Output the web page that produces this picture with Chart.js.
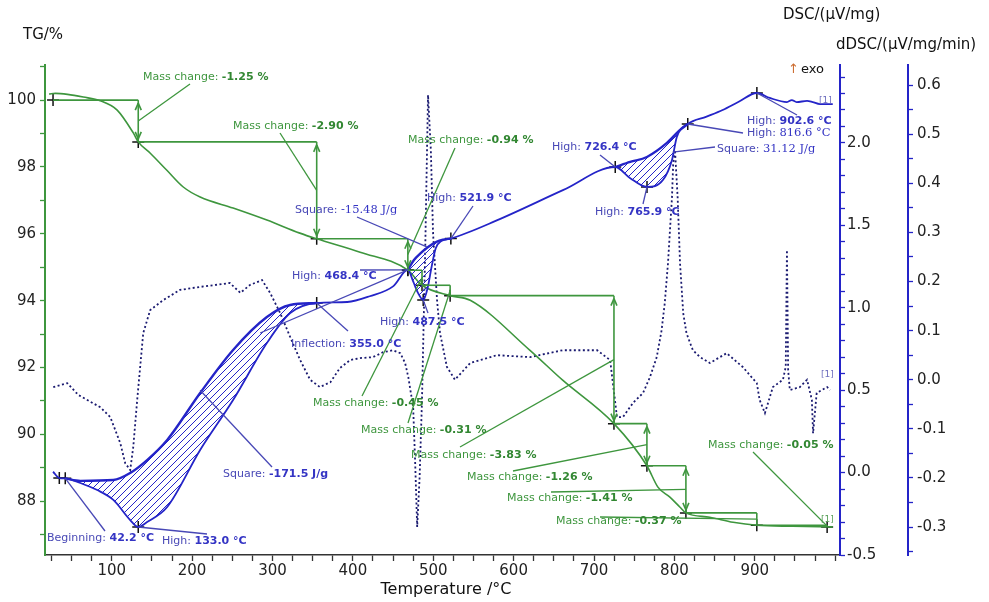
<!DOCTYPE html>
<html>
<head>
<meta charset="utf-8">
<script src="https://cdn.jsdelivr.net/npm/chart.js"></script>
<style>
  html, body { margin: 0; padding: 0; background: #fff; }
  #wrap { width: 989px; height: 602px; }
</style>
</head>
<body>
<div id="wrap"><canvas id="thermoChart" width="989" height="602"></canvas></div>
<script>
    // TG curve (temperature °C, mass %)
    const tgT = [22, 30, 45, 64.6, 85.7, 106.8, 127, 133, 148, 168.6, 189, 210, 251, 293, 334, 355, 409, 468.4, 486, 521, 546, 620, 661, 724.8, 765.8, 779.5, 794.4, 807, 814.3, 844, 873, 902.5, 947, 997];
    const tgV = [100.18, 100.2, 100.17, 100.09, 99.98, 99.7, 99.01, 98.75, 98.41, 97.9, 97.4, 97.1, 96.77, 96.41, 96.02, 95.85, 95.45, 94.91, 94.46, 94.15, 94.01, 92.52, 91.62, 90.32, 89.06, 88.42, 88.12, 87.82, 87.65, 87.52, 87.37, 87.28, 87.25, 87.23];

    // mass change steps
    const stepT = [27, 133, 355, 468.4, 486, 521, 724.8, 765.8, 814.3, 902.5, 990];
    const stepV = [100, 98.75, 95.85, 94.91, 94.46, 94.15, 90.32, 89.06, 87.65, 87.28, 87.23];
    const massLabels = ['-1.25 %', '-2.90 %', '-0.94 %', '-0.45 %', '-0.31 %', '-3.83 %', '-1.26 %', '-1.41 %', '-0.37 %', '-0.05 %'];

    // DSC curve (µV/mg)
    const dscT = [27, 35, 42.2, 61, 82, 102, 123, 133, 144, 169, 210, 251, 293, 322, 355, 393, 421, 450, 468.4, 475, 481, 487.5, 493, 498, 503, 510, 521.9, 579, 662, 726.4, 744.6, 765.9, 785.7, 797, 803, 816.6, 840, 860, 880, 902.6, 918.6, 940, 946, 952, 965, 972, 981, 997];
    const dscV = [0.005, -0.033, -0.035, -0.063, -0.106, -0.166, -0.288, -0.33, -0.3, -0.209, 0.137, 0.44, 0.786, 0.968, 1.029, 1.035, 1.07, 1.13, 1.23, 1.16, 1.09, 1.047, 1.12, 1.25, 1.36, 1.405, 1.42, 1.53, 1.715, 1.854, 1.788, 1.733, 1.775, 1.897, 2.036, 2.115, 2.16, 2.2, 2.25, 2.303, 2.273, 2.248, 2.26, 2.248, 2.255, 2.248, 2.236, 2.236];

    // integration baselines of the three peaks
    const base1T = [42.2, 61, 102, 123, 144, 169, 210, 251, 293, 322, 355];
    const base1V = [-0.035, -0.05, -0.045, -0.002, 0.076, 0.198, 0.483, 0.744, 0.944, 1.017, 1.029];
    const base2T = [468.4, 476, 484, 494, 504, 512, 521.9];
    const base2V = [1.23, 1.29, 1.33, 1.37, 1.40, 1.413, 1.42];
    const base3T = [726.4, 745, 765.8, 790.7, 807, 816.6];
    const base3V = [1.854, 1.885, 1.915, 2.0, 2.079, 2.115];

    // dDSC curve (µV/mg/min)
    const ddscT = [27.3, 44.7, 58.4, 85.7, 98.2, 110.6, 116.8, 123, 126.8, 131.7, 139.2, 147.9, 164, 185, 210, 229, 247, 260, 272, 287, 297, 309.5, 322, 334.4, 346.8, 359, 372, 384, 396.5, 409, 425, 437.5, 450, 459, 465, 469, 475, 477.4, 480, 483, 486, 490, 493.5, 497, 499.7, 504.7, 508.4, 517, 527, 546, 579, 620, 661, 704, 720, 726, 728.5, 736, 748.6, 761, 769.5, 778, 784, 788, 792, 794.5, 797, 798.5, 800.7, 804, 807, 811, 815, 819.5, 823, 832, 844, 865, 885, 902.5, 906, 912.6, 922.5, 935, 938.5, 940, 941.5, 943.6, 956, 965, 971, 972.5, 977, 990, 993.5];
    const ddscV = [-0.015, -0.007, -0.031, -0.056, -0.076, -0.129, -0.17, -0.184, -0.137, -0.041, 0.095, 0.142, 0.162, 0.183, 0.189, 0.193, 0.197, 0.177, 0.193, 0.203, 0.177, 0.136, 0.087, 0.04, 0.0, -0.015, -0.005, 0.024, 0.04, 0.044, 0.046, 0.056, 0.06, 0.054, 0.034, 0.005, -0.056, -0.164, -0.3, -0.2, -0.041, 0.264, 0.58, 0.468, 0.3, 0.162, 0.095, 0.026, 0.0, 0.034, 0.05, 0.046, 0.06, 0.06, 0.04, -0.041, -0.076, -0.076, -0.047, -0.027, 0.005, 0.046, 0.1, 0.156, 0.237, 0.305, 0.372, 0.441, 0.468, 0.372, 0.237, 0.135, 0.095, 0.075, 0.06, 0.046, 0.034, 0.054, 0.026, -0.007, -0.041, -0.068, -0.015, 0.0, 0.026, 0.264, 0.02, -0.021, -0.015, 0.0, -0.041, -0.109, -0.027, -0.015, -0.021];

    // evaluated DSC points
    const dscMarkT = [34.8, 42.2, 133.0, 355.0, 468.4, 487.5, 521.9, 726.4, 765.9, 816.6, 902.6];
    const dscMarkV = [-0.033, -0.035, -0.33, 1.029, 1.23, 1.047, 1.42, 1.854, 1.733, 2.115, 2.303];

    const FONT = 'DejaVu Sans';
    const GREEN = 'rgb(62,150,62)';
    const BLUE = 'rgb(36,36,200)';
    const NOTE_BLUE = 'rgb(72,72,182)';
    const NAVY = 'rgb(26,26,112)';

    const pts = (xs, ys) => xs.map((x, i) => ({ x, y: ys[i] }));
    const range = (a, b, step) => {
        const out = [];
        for (let k = Math.round(a / step); k <= Math.round(b / step) + 1e-9; k++) out.push(Math.round(k * step * 1000) / 1000);
        return out;
    };

    function hatchPattern() {
        const c = document.createElement('canvas');
        c.width = 7; c.height = 7;
        const g = c.getContext('2d');
        g.strokeStyle = BLUE;
        g.lineWidth = 1;
        g.beginPath();
        g.moveTo(0, 7); g.lineTo(7, 0);
        g.moveTo(-1, 1); g.lineTo(1, -1);
        g.moveTo(6, 8); g.lineTo(8, 6);
        g.stroke();
        return g.createPattern(c, 'repeat');
    }
    const hatch = hatchPattern();

    // text notes (label position in px, leader start in px)
    const greenNotes = [
        { x: 143, y: 77, from: [190, 84] },
        { x: 233, y: 126, from: [280, 133] },
        { x: 408, y: 140, from: [455, 148] },
        { x: 313, y: 403, from: [362, 396] },
        { x: 361, y: 430, from: [408, 423] },
        { x: 411, y: 455, from: [460, 447] },
        { x: 467, y: 477, from: [513, 471] },
        { x: 507, y: 498, from: [551, 492] },
        { x: 556, y: 521, from: [600, 517] },
        { x: 708, y: 445, from: [753, 452] }
    ];
    const blueNotes = [
        { x: 47, y: 538, label: 'Beginning: ', value: '42.2 °C', from: [105, 531], mark: 1 },
        { x: 162, y: 541, label: 'High: ', value: '133.0 °C', from: [207, 534], mark: 2 },
        { x: 223, y: 474, label: 'Square: ', value: '-171.5 J/g', from: [272, 467], to: [210, 0.5] },
        { x: 291, y: 344, label: 'Inflection: ', value: '355.0 °C', from: [348, 331], mark: 3 },
        { x: 292, y: 276, label: 'High: ', value: '468.4 °C', from: [360, 270], mark: 4 },
        { x: 295, y: 210, label: 'Square: ', value: '-15.48 J/g', serif: true, from: [357, 217], to: [492, 1.37] },
        { x: 427, y: 198, label: 'High: ', value: '521.9 °C', from: [473, 206], mark: 6 },
        { x: 380, y: 322, label: 'High: ', value: '487.5 °C', from: [428, 313], mark: 5 },
        { x: 552, y: 147, label: 'High: ', value: '726.4 °C', from: [600, 155], mark: 7 },
        { x: 595, y: 212, label: 'High: ', value: '765.9 °C', from: [643, 204], mark: 8 },
        { x: 717, y: 149, label: 'Square: ', value: '31.12 J/g', serif: true, from: [715, 147], to: [798, 1.945] },
        { x: 747, y: 133, label: 'High: ', value: '816.6 °C', serif: true, from: [743, 133], mark: 9 },
        { x: 747, y: 121, label: 'High: ', value: '902.6 °C', from: [797, 115], mark: 10 }
    ];

    function richText(ctx, x, y, parts) {
        let cx = x;
        parts.forEach(([txt, font, color]) => {
            ctx.font = font;
            ctx.fillStyle = color;
            ctx.fillText(txt, cx, y);
            cx += ctx.measureText(txt).width;
        });
    }

    function line(ctx, x1, y1, x2, y2) {
        ctx.beginPath();
        ctx.moveTo(x1, y1);
        ctx.lineTo(x2, y2);
        ctx.stroke();
    }

    function doubleArrow(ctx, px, y1, y2) {
        line(ctx, px, y1, px, y2);
        if (Math.abs(y2 - y1) < 20) return;
        const dir = y2 > y1 ? 1 : -1;
        [[y1, dir], [y2, -dir]].forEach(([yy, d]) => {
            const tip = yy + d * 3;
            line(ctx, px - 3, tip + d * 7, px, tip);
            line(ctx, px + 3, tip + d * 7, px, tip);
        });
    }

    const notesPlugin = {
        id: 'notes',
        afterDatasetsDraw(chart) {
            const { ctx, scales } = chart;
            const x = scales.x, yTG = scales.yTG, yDSC = scales.yDSC;
            ctx.save();
            ctx.textBaseline = 'middle';
            ctx.textAlign = 'left';

            // mass change steps
            ctx.strokeStyle = GREEN;
            ctx.lineWidth = 1.6;
            for (let i = 0; i < stepT.length - 1; i++) {
                const xa = x.getPixelForValue(stepT[i]);
                const xb = x.getPixelForValue(stepT[i + 1]);
                const ya = yTG.getPixelForValue(stepV[i]);
                const yb = yTG.getPixelForValue(stepV[i + 1]);
                line(ctx, xa, ya, xb, ya);
                doubleArrow(ctx, xb, ya, yb);
            }
            ctx.lineWidth = 1.3;
            greenNotes.forEach((n, i) => {
                const tx = x.getPixelForValue(stepT[i + 1]);
                const ty = yTG.getPixelForValue((stepV[i] + stepV[i + 1]) / 2);
                line(ctx, n.from[0], n.from[1], tx, ty);
                richText(ctx, n.x, n.y, [
                    ['Mass change: ', `11px ${FONT}`, GREEN],
                    [massLabels[i], `bold 11px ${FONT}`, 'rgb(50,135,50)']
                ]);
            });

            // DSC evaluation notes
            ctx.strokeStyle = NOTE_BLUE;
            ctx.lineWidth = 1.3;
            line(ctx, x.getPixelForValue(284.6), yDSC.getPixelForValue(0.847),
                x.getPixelForValue(468.4), yDSC.getPixelForValue(1.23));
            blueNotes.forEach(n => {
                const t = n.to ? n.to : [dscMarkT[n.mark], dscMarkV[n.mark]];
                line(ctx, n.from[0], n.from[1], x.getPixelForValue(t[0]), yDSC.getPixelForValue(t[1]));
                richText(ctx, n.x, n.y, [
                    [n.label, `11px ${FONT}`, NOTE_BLUE],
                    [n.value, n.serif ? `11.5px DejaVu Serif` : `bold 11px ${FONT}`, 'rgb(52,52,196)']
                ]);
            });

            // curve tags
            ctx.font = `9px ${FONT}`;
            ctx.fillStyle = 'rgb(110,110,190)';
            ctx.fillText('[1]', 819, 101);
            ctx.fillText('[1]', 821, 375);
            ctx.fillStyle = 'rgb(90,160,90)';
            ctx.fillText('[1]', 821, 520);

            // titles
            ctx.fillStyle = '#111';
            ctx.font = `15px ${FONT}`;
            ctx.fillText('TG/%', 23, 35);
            ctx.fillText('DSC/(μV/mg)', 783, 15);
            ctx.fillText('dDSC/(μV/mg/min)', 836, 45);
            ctx.font = `13px ${FONT}`;
            ctx.fillStyle = 'rgb(205,110,50)';
            ctx.fillText('↑', 788, 70);
            ctx.fillStyle = '#111';
            ctx.fillText('exo', 801, 70);
            ctx.font = `16px ${FONT}`;
            ctx.textAlign = 'center';
            ctx.fillText('Temperature /°C', 446, 590);
            ctx.restore();
        }
    };

    const tickFont = { family: FONT, size: 15 };

    new Chart(document.getElementById('thermoChart'), {
        type: 'line',
        data: {
            datasets: [
                {
                    label: 'DSC', data: pts(dscT, dscV), yAxisID: 'yDSC',
                    borderColor: BLUE, borderWidth: 1.8, fill: false,
                    cubicInterpolationMode: 'monotone', pointRadius: 0
                },
                {
                    label: 'base1', data: pts(base1T, base1V), yAxisID: 'yDSC',
                    borderColor: BLUE, borderWidth: 2.4, backgroundColor: hatch, fill: 0,
                    cubicInterpolationMode: 'monotone', pointRadius: 0
                },
                {
                    label: 'base2', data: pts(base2T, base2V), yAxisID: 'yDSC',
                    borderColor: BLUE, borderWidth: 2.4, backgroundColor: hatch, fill: 0,
                    cubicInterpolationMode: 'monotone', pointRadius: 0
                },
                {
                    label: 'base3', data: pts(base3T, base3V), yAxisID: 'yDSC',
                    borderColor: BLUE, borderWidth: 2.4, backgroundColor: hatch, fill: 0,
                    cubicInterpolationMode: 'monotone', pointRadius: 0
                },
                {
                    label: 'TG', data: pts(tgT, tgV), yAxisID: 'yTG',
                    borderColor: GREEN, borderWidth: 1.6, fill: false,
                    cubicInterpolationMode: 'monotone', pointRadius: 0
                },
                {
                    label: 'dDSC', data: pts(ddscT, ddscV), yAxisID: 'yD',
                    borderColor: NAVY, borderWidth: 1.8, borderDash: [2, 2.5], fill: false,
                    tension: 0, pointRadius: 0
                },
                {
                    label: 'TG points', data: pts(stepT, stepV), yAxisID: 'yTG', showLine: false,
                    pointStyle: 'cross', pointRadius: 6, pointBorderWidth: 1.5,
                    pointBorderColor: '#111', fill: false
                },
                {
                    label: 'DSC points', data: pts(dscMarkT, dscMarkV), yAxisID: 'yDSC', showLine: false,
                    pointStyle: 'cross', pointRadius: 6, pointBorderWidth: 1.5,
                    pointBorderColor: '#111', fill: false
                }
            ]
        },
        options: {
            responsive: false,
            animation: false,
            layout: { padding: { top: 65, left: 0, right: 0, bottom: 0 } },
            plugins: { legend: { display: false }, tooltip: { enabled: false } },
            scales: {
                x: {
                    type: 'linear', position: 'bottom', min: 17, max: 1006,
                    afterBuildTicks: s => { s.ticks = range(25, 1000, 25).map(value => ({ value })); },
                    ticks: {
                        autoSkip: false, maxRotation: 0, padding: 1, color: '#222', font: tickFont,
                        callback: v => (Math.round(v) % 100 === 0 && v < 1000 ? v : '')
                    },
                    grid: { drawOnChartArea: false, tickLength: 6, color: '#333', tickWidth: 1.3 },
                    border: { color: '#333', width: 1.5 },
                    afterFit: s => { s.height = 47; }
                },
                yTG: {
                    type: 'linear', position: 'left', min: 86.39, max: 101.05,
                    afterBuildTicks: s => { s.ticks = range(87, 101, 1).map(value => ({ value })); },
                    ticks: {
                        autoSkip: false, padding: 4, color: '#222', font: tickFont,
                        callback: v => (Math.round(v) % 2 === 0 ? v : '')
                    },
                    grid: { drawOnChartArea: false, tickLength: 5, color: GREEN, tickWidth: 1.3 },
                    border: { color: GREEN, width: 2 },
                    afterFit: s => { s.width = 45; }
                },
                yDSC: {
                    type: 'linear', position: 'right', min: -0.5, max: 2.473,
                    afterBuildTicks: s => { s.ticks = range(-0.5, 2.4, 0.1).map(value => ({ value })); },
                    ticks: {
                        autoSkip: false, padding: 2, color: '#222', font: tickFont,
                        callback: v => (Math.abs(v * 2 - Math.round(v * 2)) < 1e-6 ? v.toFixed(1) : '')
                    },
                    grid: { drawOnChartArea: false, tickLength: 5, color: BLUE, tickWidth: 1.3 },
                    border: { color: BLUE, width: 2 },
                    afterFit: s => { s.width = 68; }
                },
                yD: {
                    type: 'linear', position: 'right', min: -0.357, max: 0.641,
                    afterBuildTicks: s => { s.ticks = range(-0.35, 0.6, 0.05).map(value => ({ value })); },
                    ticks: {
                        autoSkip: false, padding: 4, color: '#222', font: tickFont,
                        callback: v => (Math.abs(v * 10 - Math.round(v * 10)) < 1e-6 ? v.toFixed(1) : '')
                    },
                    grid: { drawOnChartArea: false, tickLength: 5, color: BLUE, tickWidth: 1.3 },
                    border: { color: BLUE, width: 2 },
                    afterFit: s => { s.width = 81; }
                }
            }
        },
        plugins: [notesPlugin]
    });
</script>
</body>
</html>
